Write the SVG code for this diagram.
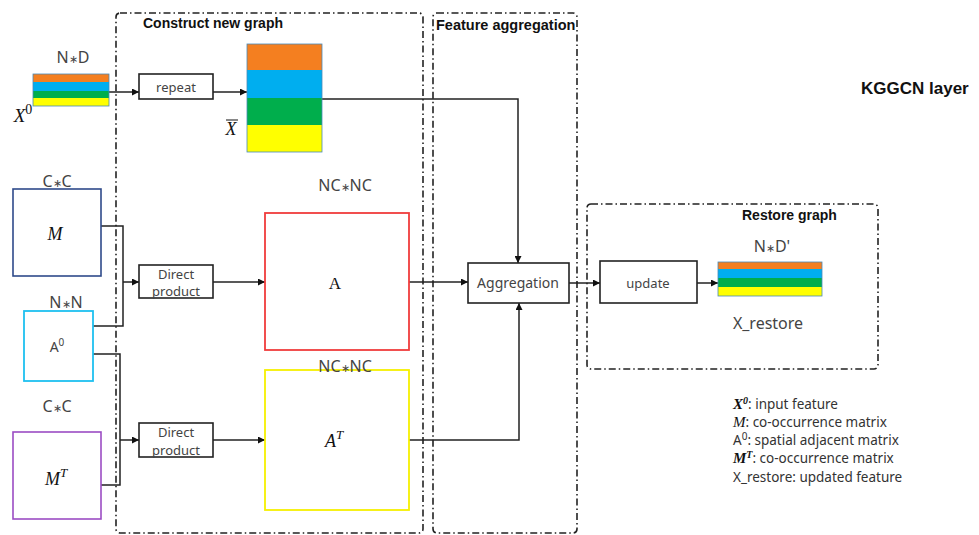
<svg xmlns="http://www.w3.org/2000/svg" width="979" height="535" viewBox="0 0 979 535">
<defs>
<marker id="ah" viewBox="0 0 10 10" refX="10" refY="5" markerWidth="7" markerHeight="7" markerUnits="userSpaceOnUse" orient="auto"><path d="M0,0 L10,5 L0,10 z" fill="#111"/></marker>
<style>
.grp{fill:none;stroke:#222;stroke-width:1.6;stroke-dasharray:7 3 1.5 3}
.box{fill:#fff;stroke:#222;stroke-width:1.6}
.ln{fill:none;stroke:#222;stroke-width:1.5}
.ar{fill:none;stroke:#222;stroke-width:1.5;marker-end:url(#ah)}
.t{font-family:"Noto Sans","Liberation Sans",sans-serif;fill:#444;text-anchor:middle}
.st{font-size:11px}
.tb{font-family:"Liberation Sans","Noto Sans",sans-serif;font-weight:bold;fill:#111}
.m{font-family:"Liberation Serif","DejaVu Serif",serif;font-style:italic;fill:#111;text-anchor:middle}
.mi{font-family:"Liberation Serif","DejaVu Serif",serif;font-style:italic;fill:#111}
.s{stroke:#4a8ab8;stroke-width:0.8}
.l{font-family:"Noto Sans","Liberation Sans",sans-serif;fill:#333;font-size:13.5px}
</style>
</defs>
<rect width="979" height="535" fill="#fff"/>
<g id="groups">
<rect class="grp" x="116" y="13" width="307" height="520" rx="4"/>
<text class="tb" x="143" y="28" font-size="14">Construct new graph</text>
<rect class="grp" x="433" y="13" width="144" height="520" rx="4"/>
<text class="tb" x="436" y="30" font-size="14.5">Feature aggregation</text>
<rect class="grp" x="587" y="204" width="291" height="165" rx="4"/>
<text class="tb" x="742" y="220" font-size="14">Restore graph</text>
</g>
<text class="tb" x="861" y="94" font-size="17">KGGCN layer</text>
<g id="connectors">
<path class="ar" d="M109,92 H139"/>
<path class="ar" d="M213,92 H247"/>
<path class="ar" d="M322,99 H518 V263"/>
<path class="ln" d="M101,226 H123 V326 H93"/>
<path class="ar" d="M123,282 H139"/>
<path class="ln" d="M93,354 H120 V485 H101"/>
<path class="ar" d="M120,440 H139"/>
<path class="ar" d="M213,282 H265"/>
<path class="ar" d="M213,440 H265"/>
<path class="ar" d="M409,282 H468"/>
<path class="ar" d="M409,440 H519 V303"/>
<path class="ar" d="M569,283 H600"/>
<path class="ar" d="M697,283 H718"/>
</g>
<g id="x0">
<text class="t" x="73" y="63" font-size="16">N<tspan class="st">∗</tspan>D</text>
<rect x="33" y="74" width="76" height="8" fill="#f47f20"/>
<rect x="33" y="82" width="76" height="9" fill="#00aeef"/>
<rect x="33" y="91" width="76" height="7" fill="#00ae4c"/>
<rect x="33" y="98" width="76" height="8" fill="#ffff00"/>
<rect x="33" y="74" width="76" height="32" fill="none" class="s"/>
<text class="m" x="23" y="122" font-size="19">X<tspan font-style="normal" font-size="14" dy="-8">0</tspan></text>
</g>
<g id="repeat">
<rect class="box" x="139" y="74" width="74" height="25"/>
<text class="t" x="176" y="92" font-size="13">repeat</text>
</g>
<g id="xbar">
<rect x="247" y="44" width="75" height="26" fill="#f47f20"/>
<rect x="247" y="70" width="75" height="28" fill="#00aeef"/>
<rect x="247" y="98" width="75" height="27" fill="#00ae4c"/>
<rect x="247" y="125" width="75" height="27" fill="#ffff00"/>
<rect x="247" y="44" width="75" height="108" fill="none" class="s"/>
<text class="m" x="231" y="135" font-size="18">X</text>
<line x1="226" y1="120" x2="238" y2="120" stroke="#111" stroke-width="1"/>
</g>
<g id="M">
<text class="t" x="57" y="187" font-size="16">C<tspan class="st">∗</tspan>C</text>
<rect x="13" y="189" width="88" height="87" fill="#fff" stroke="#2f4a8a" stroke-width="1.6"/>
<text class="m" x="55" y="240" font-size="18">M</text>
</g>
<g id="A0">
<text class="t" x="66" y="308" font-size="16">N<tspan class="st">∗</tspan>N</text>
<rect x="24" y="311" width="69" height="70" fill="#fff" stroke="#1ec0f0" stroke-width="1.8"/>
<text class="t" x="57" y="352" font-size="14">A<tspan font-size="10" dy="-6">0</tspan></text>
</g>
<g id="MT">
<text class="t" x="57" y="412" font-size="16">C<tspan class="st">∗</tspan>C</text>
<rect x="13" y="432" width="88" height="87" fill="#fff" stroke="#9b4dc4" stroke-width="1.6"/>
<text class="m" x="56" y="485" font-size="18">M<tspan font-size="13" dy="-8">T</tspan></text>
</g>
<g id="dp1">
<rect class="box" x="139" y="265" width="74" height="33"/>
<text class="t" x="176" y="279" font-size="13">Direct</text>
<text class="t" x="176" y="296" font-size="13">product</text>
</g>
<g id="dp2">
<rect class="box" x="139" y="423" width="74" height="34"/>
<text class="t" x="176" y="437" font-size="13">Direct</text>
<text class="t" x="176" y="455" font-size="13">product</text>
</g>
<g id="A">
<text class="t" x="345" y="191" font-size="16">NC<tspan class="st">∗</tspan>NC</text>
<rect x="265" y="213" width="144" height="137" fill="#fff" stroke="#f03c3c" stroke-width="1.8"/>
<text class="t" x="335" y="289" font-size="17" style="font-family:'Liberation Serif',serif;fill:#111">A</text>
</g>
<g id="AT">
<rect x="265" y="370" width="144" height="140" fill="#fff" stroke="#f5f000" stroke-width="1.8"/>
<text class="t" x="345" y="372" font-size="16">NC<tspan class="st">∗</tspan>NC</text>
<text class="m" x="334" y="447" font-size="18">A<tspan font-size="13" dy="-8">T</tspan></text>
</g>
<g id="aggregation">
<rect class="box" x="468" y="263" width="101" height="40"/>
<text class="t" x="518" y="288" font-size="14">Aggregation</text>
</g>
<g id="update">
<rect class="box" x="600" y="261" width="97" height="42"/>
<text class="t" x="648" y="288" font-size="13">update</text>
</g>
<g id="xrestore">
<text class="t" x="772" y="252" font-size="16">N<tspan class="st">∗</tspan>D'</text>
<rect x="718" y="262" width="104" height="7" fill="#f47f20"/>
<rect x="718" y="269" width="104" height="9" fill="#00aeef"/>
<rect x="718" y="278" width="104" height="9" fill="#00ae4c"/>
<rect x="718" y="287" width="104" height="9" fill="#ffff00"/>
<rect x="718" y="262" width="104" height="34" fill="none" class="s"/>
<text class="t" x="768" y="329" font-size="16">X_restore</text>
</g>
<g id="legend">
<text class="l" x="733" y="409"><tspan class="mi" font-weight="bold" font-size="15">X<tspan font-size="10" dy="-5">0</tspan></tspan><tspan dy="5">:  input feature</tspan></text>
<text class="l" x="733" y="427"><tspan class="mi" font-size="15">M</tspan>: co-occurrence matrix</text>
<text class="l" x="733" y="445">A<tspan font-size="10" dy="-5">0</tspan><tspan dy="5">: spatial adjacent matrix</tspan></text>
<text class="l" x="733" y="463"><tspan class="mi" font-weight="bold" font-size="15">M<tspan font-size="10" dy="-5">T</tspan></tspan><tspan dy="5">: co-occurrence matrix</tspan></text>
<text class="l" x="733" y="482">X_restore: updated feature</text>
</g>
</svg>
